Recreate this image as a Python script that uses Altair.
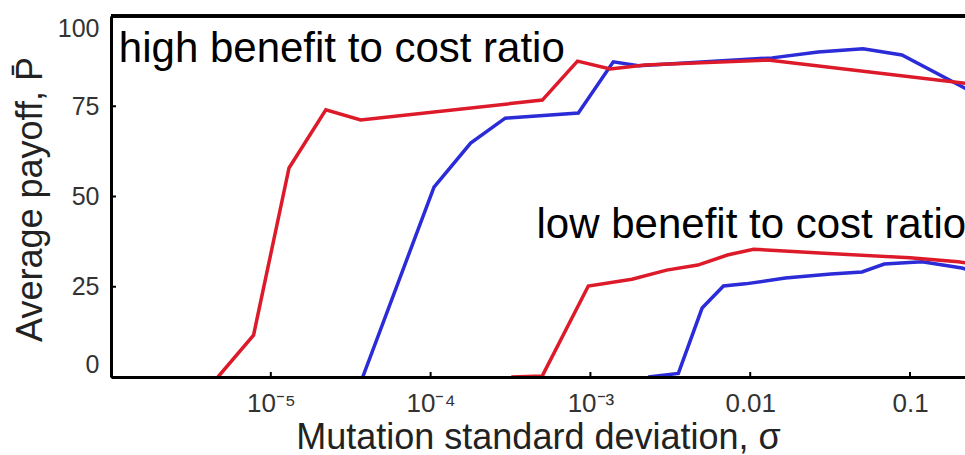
import math
import altair as alt
import pandas as pd

# ---- data ----
hi_red_sigma = [4.67e-6, 7.8e-6, 1.30e-5, 2.21e-5, 3.65e-5, 5.0e-4, 8.3e-4, 1.33e-3, 2.2e-3, 0.0129, 0.221, 0.25]
hi_red_P     = [0.0, 11.6, 57.9, 74.0, 71.2, 76.7, 87.5, 85.3, 86.4, 87.8, 81.4, 80.5]

hi_blue_sigma = [3.76e-5, 1.05e-4, 1.78e-4, 2.93e-4, 8.4e-4, 1.39e-3, 2.0e-3, 3.9e-3, 0.0137, 0.0266, 0.0508, 0.089, 0.221, 0.25]
hi_blue_P     = [0.0, 52.6, 64.8, 71.7, 73.1, 87.3, 86.2, 87.0, 88.4, 90.0, 90.9, 89.2, 80.0, 78.5]

lo_red_sigma = [3.2e-4, 5.0e-4, 9.7e-4, 1.82e-3, 3.0e-3, 4.7e-3, 7.2e-3, 0.0105, 0.029, 0.1, 0.2, 0.25]
lo_red_P     = [0.0, 0.3, 25.2, 27.1, 29.6, 31.0, 33.8, 35.4, 34.3, 33.0, 31.9, 31.3]

lo_blue_sigma = [2.3e-3, 3.55e-3, 5.0e-3, 6.8e-3, 9.3e-3, 0.0166, 0.032, 0.05, 0.069, 0.119, 0.211, 0.25]
lo_blue_P     = [0.0, 1.0, 19.1, 25.2, 25.8, 27.4, 28.5, 29.1, 31.3, 31.9, 30.2, 29.3]

ann_labels = ["high benefit to cost ratio", "low benefit to cost ratio"]
ann_sigma = [1.12e-6, 4.6e-4]
ann_P = [87.3, 38.5]

x_tick_values = [1e-5, 1e-4, 1e-3, 0.01, 0.1]
x_tick_labels = ["10\u207b\u2075", "10\u207b\u2074", "10\u207b\u00b3", "0.01", "0.1"]
y_tick_values = [0, 25, 50, 75, 100]

RED = "#DD1A2A"
BLUE = "#2B2BD8"
FONT = "Liberation Sans"

W, H = 854, 361


def frame(sig, p, grp):
    return pd.DataFrame({"sigma": sig, "P": p, "grp": grp})


red_df = pd.concat([frame(hi_red_sigma, hi_red_P, "high"), frame(lo_red_sigma, lo_red_P, "low")])
blue_df = pd.concat([frame(hi_blue_sigma, hi_blue_P, "high"), frame(lo_blue_sigma, lo_blue_P, "low")])
ann_df = pd.DataFrame({"sigma": ann_sigma, "P": ann_P, "label": ann_labels})
xt_df = pd.DataFrame({"sigma": x_tick_values})
yt_df = pd.DataFrame({"P": y_tick_values})

label_expr = " : ".join(
    f"(abs(log(datum.value)/log(10) - ({math.log10(v)})) < 0.01) ? '{l}'"
    for v, l in zip(x_tick_values, x_tick_labels)
) + " : ''"

x_scale = alt.Scale(type="log", domain=[1e-6, 0.2208], nice=False)
y_scale = alt.Scale(domain=[0, 100], nice=False, zero=False)

x_enc = alt.X(
    "sigma:Q",
    scale=x_scale,
    axis=alt.Axis(
        values=x_tick_values,
        labelExpr=label_expr,
        ticks=False,
        grid=False,
        domainColor="black",
        domainWidth=3,
        labelFont=FONT,
        labelFontSize=26,
        labelColor="#333333",
        labelBaseline="alphabetic",
        labelPadding=34,
        title="Mutation standard deviation, \u03c3",
        titleFont=FONT,
        titleFontSize=36,
        titleFontWeight="normal",
        titleColor="#222222",
        titleBaseline="alphabetic",
        titleY=71,
        zindex=1,
    ),
)
y_enc = alt.Y(
    "P:Q",
    scale=y_scale,
    axis=alt.Axis(
        values=y_tick_values,
        ticks=False,
        grid=False,
        domainColor="black",
        domainWidth=3,
        labelFont=FONT,
        labelFontSize=25,
        labelColor="#333333",
        labelPadding=12,
        labelFlush=True,
        title="Average payoff, P\u0304",
        titleFont=FONT,
        titleFontSize=36,
        titleFontWeight="normal",
        titleColor="#222222",
        titleAngle=270,
        titleAlign="center",
        titleBaseline="alphabetic",
        titleX=-70,
        titleY=183,
        zindex=1,
    ),
)

blue = alt.Chart(blue_df).mark_line(color=BLUE, strokeWidth=3.5, clip=True).encode(
    x=x_enc, y=y_enc, detail="grp:N", order="sigma:Q"
)
red = alt.Chart(red_df).mark_line(color=RED, strokeWidth=3.5, clip=True).encode(
    x="sigma:Q", y="P:Q", detail="grp:N", order="sigma:Q"
)
text = alt.Chart(ann_df).mark_text(
    align="left", baseline="alphabetic", font=FONT, fontSize=42, color="black"
).encode(x="sigma:Q", y="P:Q", text="label:N")

top_border = alt.Chart(yt_df).mark_rule(color="black", strokeWidth=3).encode(
    y=alt.datum(100)
)
x_ticks = alt.Chart(xt_df).mark_rule(color="black", strokeWidth=2).encode(
    x="sigma:Q", y=alt.value(H), y2=alt.value(H - 5)
)
y_ticks = alt.Chart(yt_df).mark_rule(color="black", strokeWidth=2).encode(
    y="P:Q", x=alt.value(0), x2=alt.value(5)
)

chart = (
    alt.layer(blue, red, text, top_border, x_ticks, y_ticks)
    .properties(
        width=W,
        height=H,
        autosize=alt.AutoSizeParams(type="none"),
        padding={"left": 111, "top": 16, "right": 0, "bottom": 78},
        background="white",
    )
    .configure_view(stroke=None)
)

chart.save("out.html", embed_options={"renderer": "svg", "actions": False})
